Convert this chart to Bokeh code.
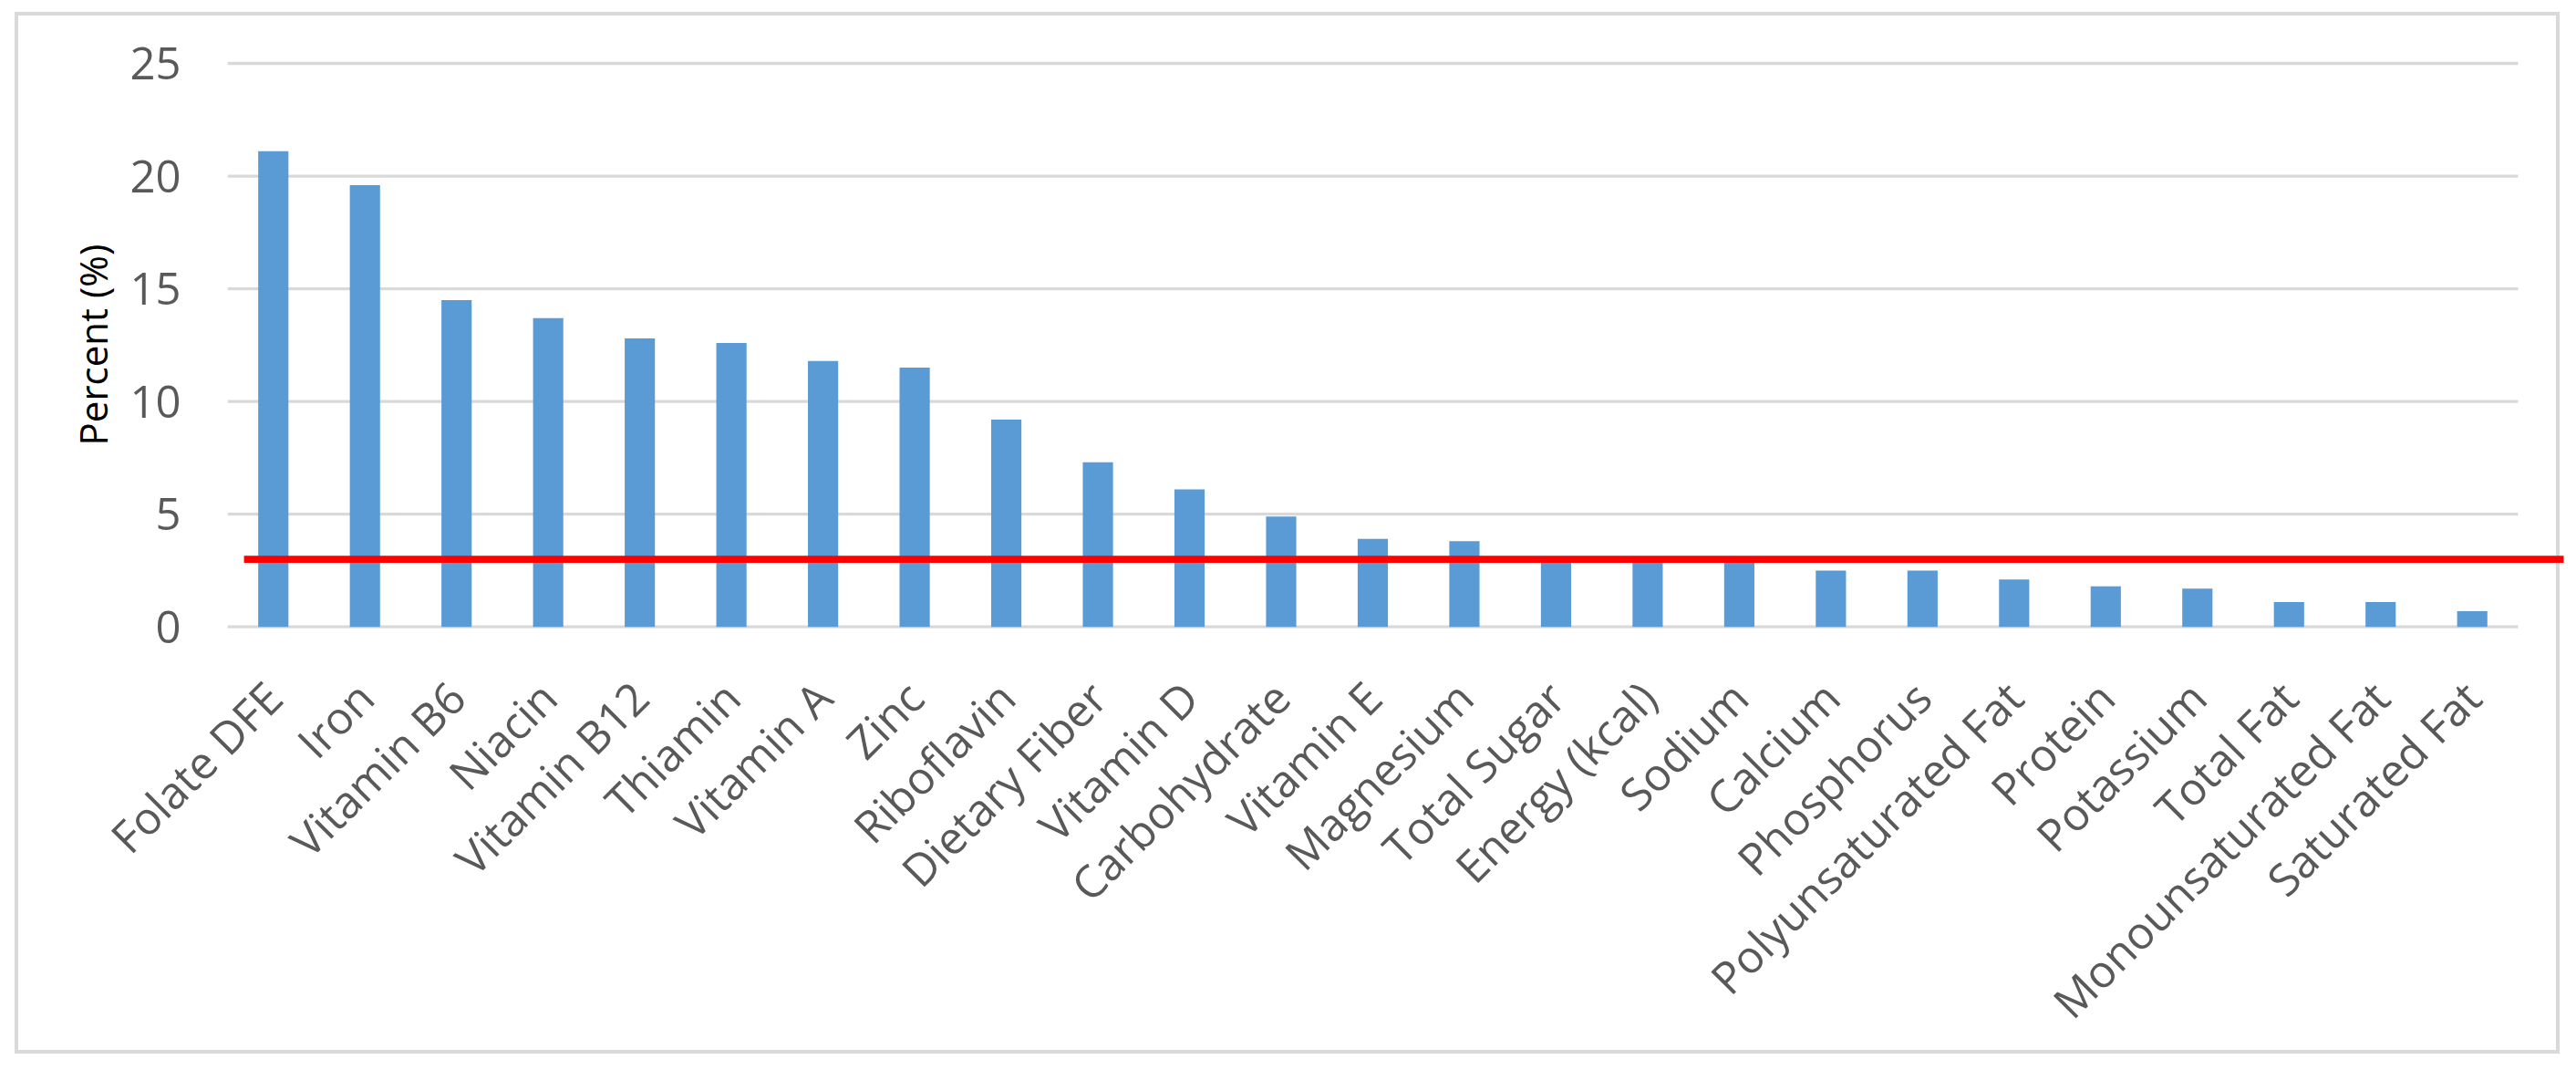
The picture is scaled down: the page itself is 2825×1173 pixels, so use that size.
import math
from bokeh.plotting import figure
from bokeh.models import Range1d, FixedTicker
from bokeh.embed import file_html
from bokeh.resources import INLINE

# ---- data ----
categories = [
    "Folate DFE", "Iron", "Vitamin B6", "Niacin", "Vitamin B12", "Thiamin",
    "Vitamin A", "Zinc", "Riboflavin", "Dietary Fiber", "Vitamin D",
    "Carbohydrate", "Vitamin E", "Magnesium", "Total Sugar", "Energy (kcal)",
    "Sodium", "Calcium", "Phosphorus", "Polyunsaturated Fat", "Protein",
    "Potassium", "Total Fat", "Monounsaturated Fat", "Saturated Fat",
]
percent = [21.1, 19.6, 14.5, 13.7, 12.8, 12.6, 11.8, 11.5, 9.2, 7.3, 6.1,
           4.9, 3.9, 3.8, 3.0, 3.0, 3.0, 2.5, 2.5, 2.1, 1.8, 1.7, 1.1, 1.1, 0.7]
y_ticks = [0, 5, 10, 15, 20, 25]
threshold = 3.0
y_axis_label = "Percent (%)"

# ---- layout / style ----
W, H = 2807, 1158
n = len(categories)
idx = list(range(n))
LABEL_FONT = "Open Sans"
GRAY = "#595959"
GRID = "#d9d9d9"

p = figure(width=W, height=H, output_backend="svg", toolbar_location=None,
           x_range=Range1d(-0.5, 24.998), y_range=Range1d(-0.174, 25.2024),
           min_border_left=241, min_border_right=4,
           min_border_top=59, min_border_bottom=472)
p.background_fill_color = None
p.border_fill_color = None
p.outline_line_color = None
p.xgrid.visible = False
p.ygrid.visible = False
p.styles = {"outline": "4px solid #d9d9d9", "outline-offset": "-12px",
            "margin-left": "8px", "margin-top": "5px"}

# horizontal gridlines spanning the category area
p.segment(x0=[-0.5] * len(y_ticks), x1=[n - 0.5] * len(y_ticks),
          y0=y_ticks, y1=y_ticks, line_color=GRID, line_width=3.3)

# bars
p.vbar(x=idx, top=percent, bottom=0, width=0.33, color="#5b9bd5", line_color=None)

# red threshold line
p.segment(x0=[-0.32], x1=[n + 0.5], y0=[threshold], y1=[threshold],
          line_color="#ff0000", line_width=7.7)

# y axis
ya = p.yaxis[0]
ya.ticker = FixedTicker(ticks=y_ticks)
ya.axis_line_color = None
ya.major_tick_line_color = None
ya.minor_tick_line_color = None
ya.major_label_text_font = LABEL_FONT
ya.major_label_text_font_size = "49px"
ya.major_label_text_color = GRAY
ya.major_label_standoff = 45
ya.axis_label = y_axis_label
ya.axis_label_text_font = LABEL_FONT
ya.axis_label_text_font_size = "42px"
ya.axis_label_text_font_style = "normal"
ya.axis_label_text_color = "#000000"
ya.axis_label_standoff = 9

# x axis
xa = p.xaxis[0]
xa.ticker = FixedTicker(ticks=idx)
xa.major_label_overrides = {i: c for i, c in enumerate(categories)}
xa.major_label_orientation = math.pi / 4
xa.axis_line_color = None
xa.major_tick_line_color = None
xa.minor_tick_line_color = None
xa.major_label_text_font = LABEL_FONT
xa.major_label_text_font_size = "49px"
xa.major_label_text_color = GRAY
xa.major_label_standoff = 58

open("out.html", "w").write(file_html(p, INLINE))
